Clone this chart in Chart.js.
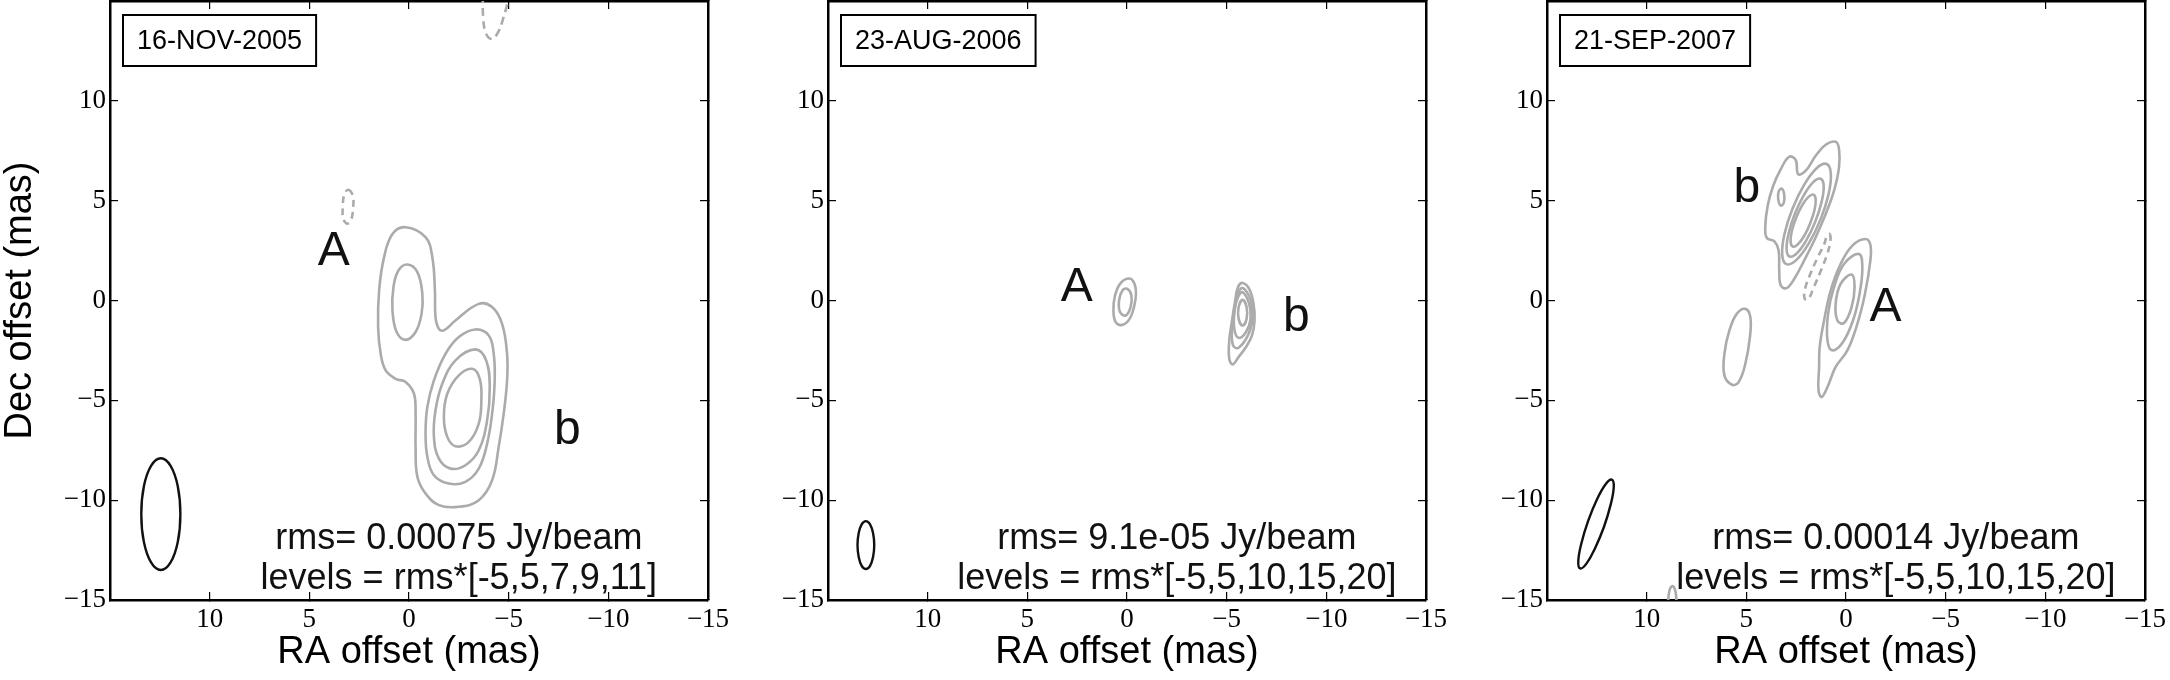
<!DOCTYPE html>
<html>
<head>
<meta charset="utf-8">
<script src="https://cdn.jsdelivr.net/npm/chart.js@4.4.0/dist/chart.umd.min.js"></script>
<style>
  html, body { margin: 0; padding: 0; background: #fff; overflow: hidden; }
  #wrap { position: relative; width: 2170px; height: 680px; }
  .panel { position: absolute; top: 0; width: 760px; height: 680px; }
</style>
</head>
<body>
<div id="wrap">
  <div class="panel" style="left:0px"><canvas id="c1" width="760" height="680"></canvas></div>
  <div class="panel" style="left:718px"><canvas id="c2" width="760" height="680"></canvas></div>
  <div class="panel" style="left:1437px"><canvas id="c3" width="760" height="680"></canvas></div>
</div>
<script>
/*
 * 1. DATA (RA offset, Dec offset in mas)
 */
const panelDates = ['16-NOV-2005', '23-AUG-2006', '21-SEP-2007'];
const rmsLabels = ['rms= 0.00075 Jy/beam', 'rms= 9.1e-05 Jy/beam', 'rms= 0.00014 Jy/beam'];
const levelLabels = ['levels = rms*[-5,5,7,9,11]', 'levels = rms*[-5,5,10,15,20]', 'levels = rms*[-5,5,10,15,20]'];
const noteRA = -2.5;
const noteDec = [-12.45, -14.45];
const axisMin = -15, axisMax = 15, axisStep = 5;

// component names: [text, RA, Dec]
const p1Names = [['A', 3.77, 1.8], ['b', -7.95, -7.2]];
const p2Names = [['A', 2.52, -0.03], ['b', -8.5, -1.52]];
const p3Names = [['b', 4.97, 4.95], ['A', -1.98, -1.03]];

// --- 16-NOV-2005 ---
const p1Lvl5 = [[0.17,3.67],[-0.83,3.17],[-1.17,2.17],[-1.3,0.5],[-1.33,-0.83],[-1.5,-1.42],[-1.75,-1.5],[-2.33,-1.0],[-3.5,-0.17],[-4.17,-0.33],[-4.67,-1.17],[-4.92,-2.67],[-4.92,-4.0],[-4.75,-5.67],[-4.5,-7.33],[-4.17,-9.0],[-3.5,-10.0],[-2.5,-10.33],[-1.5,-10.25],[-0.83,-9.67],[-0.42,-8.83],[-0.33,-7.33],[-0.33,-5.67],[-0.25,-4.67],[0.17,-4.08],[0.67,-3.92],[1.17,-3.5],[1.42,-2.67],[1.55,-1.33],[1.5,0.5],[1.25,2.17],[0.83,3.33]];
const p1Lvl7A = [[0.08,1.8],[-0.42,1.42],[-0.67,0.33],[-0.63,-0.67],[-0.33,-1.58],[0.17,-1.97],[0.62,-1.58],[0.83,-0.5],[0.78,0.67],[0.53,1.5]];
const p1Lvl7b = [[-3.33,-1.45],[-4.0,-1.75],[-4.25,-2.67],[-4.3,-4.0],[-4.17,-5.67],[-3.92,-7.17],[-3.5,-8.42],[-2.83,-9.08],[-2.0,-9.17],[-1.25,-8.75],[-0.92,-7.83],[-0.83,-6.67],[-0.92,-5.33],[-1.25,-4.0],[-1.83,-2.67],[-2.5,-1.83]];
const p1Lvl9 = [[-3.33,-2.45],[-3.87,-3.0],[-4.05,-4.33],[-3.92,-6.0],[-3.5,-7.5],[-2.83,-8.25],[-2.08,-8.42],[-1.5,-7.92],[-1.25,-6.83],[-1.33,-5.5],[-1.67,-4.17],[-2.33,-3.0]];
const p1Lvl11 = [[-3.17,-3.42],[-3.55,-3.92],[-3.63,-5.0],[-3.5,-6.17],[-3.0,-7.08],[-2.33,-7.3],[-1.92,-6.83],[-1.75,-5.83],[-1.92,-4.67],[-2.5,-3.75]];
const p1NegA = [[3.05,5.55],[2.82,5.25],[2.8,4.7],[2.9,4.05],[3.1,3.85],[3.3,4.1],[3.32,4.7],[3.25,5.3]];
const p1NegTop = [[-3.7,15.3],[-3.72,14.2],[-3.85,13.4],[-4.15,13.1],[-4.45,13.4],[-4.75,14.2],[-5.05,15.3]];
const p1Beam = [[13.43,-10.7],[13.3,-9.3],[12.94,-8.28],[12.45,-7.9],[11.96,-8.28],[11.6,-9.3],[11.47,-10.7],[11.6,-12.1],[11.96,-13.12],[12.45,-13.5],[12.94,-13.12],[13.3,-12.1]];

// --- 23-AUG-2006 ---
const p2Lvl5A = [[-0.13,1.1],[-0.38,0.83],[-0.45,0.33],[-0.35,-0.33],[-0.13,-0.92],[0.23,-1.22],[0.57,-1.08],[0.68,-0.5],[0.6,0.25],[0.32,0.87]];
const p2Lvl10A = [[-0.02,0.58],[-0.22,0.25],[-0.18,-0.33],[0.07,-0.75],[0.35,-0.58],[0.4,0.0],[0.23,0.5]];
const p2Lvl5b = [[-5.8,0.88],[-6.13,0.58],[-6.35,-0.17],[-6.4,-1.0],[-6.27,-1.75],[-5.97,-2.33],[-5.6,-2.83],[-5.3,-3.2],[-5.13,-2.92],[-5.13,-2.0],[-5.27,-1.0],[-5.43,0.0],[-5.57,0.67]];
const p2Lvl10b = [[-5.8,0.63],[-6.18,0.08],[-6.3,-0.83],[-6.1,-1.67],[-5.6,-2.37],[-5.32,-2.25],[-5.27,-1.33],[-5.43,-0.17],[-5.6,0.42]];
const p2Lvl15b = [[-5.8,0.42],[-6.13,-0.17],[-6.2,-0.92],[-5.97,-1.58],[-5.6,-1.87],[-5.38,-1.42],[-5.4,-0.5],[-5.57,0.17]];
const p2Lvl20b = [[-5.8,0.03],[-6.0,-0.33],[-6.0,-0.92],[-5.8,-1.25],[-5.6,-0.92],[-5.6,-0.33]];
const p2Beam = [[13.52,-12.25],[13.46,-11.65],[13.31,-11.21],[13.1,-11.05],[12.89,-11.21],[12.74,-11.65],[12.68,-12.25],[12.74,-12.85],[12.89,-13.29],[13.1,-13.45],[13.31,-13.29],[13.46,-12.85]];

// --- 21-SEP-2007 ---
const p3Lvl5b = [[0.52,7.95],[0.35,7.58],[0.35,6.67],[0.6,5.5],[1.02,4.33],[1.52,3.17],[2.1,2.0],[2.6,1.08],[2.98,0.62],[3.27,0.75],[3.35,1.5],[3.38,2.5],[3.6,2.97],[3.97,3.13],[4.05,3.67],[3.93,4.75],[3.65,5.75],[3.27,6.58],[2.85,7.2],[2.52,7.03],[2.4,6.33],[2.02,6.5],[1.52,7.25],[1.02,7.8]];
const p3Isle = [[3.22,5.6],[3.1,5.3],[3.12,4.9],[3.27,4.75],[3.4,5.05],[3.38,5.45]];
const p3Lvl10b = [[0.97,6.84],[1.46,6.64],[2.08,5.83],[2.68,4.61],[3.09,3.32],[3.2,2.3],[2.99,1.82],[2.5,2.02],[1.88,2.84],[1.28,4.05],[0.87,5.34],[0.76,6.36]];
const p3Lvl15b = [[1.27,6.1],[1.63,5.94],[2.1,5.3],[2.56,4.36],[2.88,3.35],[2.98,2.57],[2.83,2.2],[2.47,2.36],[2.0,3.0],[1.54,3.95],[1.22,4.95],[1.12,5.74]];
const p3Lvl20b = [[1.63,5.3],[1.87,5.2],[2.2,4.77],[2.5,4.14],[2.72,3.47],[2.78,2.95],[2.67,2.7],[2.43,2.8],[2.1,3.23],[1.8,3.86],[1.58,4.53],[1.52,5.05]];
const p3Lvl5A = [[-0.98,3.08],[-1.23,2.75],[-1.2,1.83],[-0.95,0.33],[-0.57,-1.17],[-0.07,-2.5],[0.52,-3.33],[0.93,-4.33],[1.22,-4.83],[1.38,-4.5],[1.35,-3.33],[1.32,-2.33],[1.1,-1.0],[0.77,0.5],[0.27,1.83],[-0.32,2.75]];
const p3Lvl10A = [[-0.65,2.33],[-0.82,1.67],[-0.68,0.33],[-0.35,-1.0],[0.15,-2.08],[0.68,-2.5],[0.93,-2.0],[0.9,-0.67],[0.6,0.67],[0.1,1.83]];
const p3Lvl15A = [[-0.28,1.3],[-0.43,0.67],[-0.28,-0.33],[0.1,-1.13],[0.43,-1.0],[0.52,-0.17],[0.27,0.83]];
const p3Blob = [[5.05,-0.42],[4.8,-0.83],[4.82,-1.83],[5.05,-3.17],[5.38,-4.08],[5.72,-4.22],[6.1,-3.75],[6.1,-2.67],[5.85,-1.5],[5.48,-0.67]];
const p3Neg = [[0.82,3.33],[0.78,3.0],[0.95,2.3],[1.3,1.4],[1.6,0.7],[1.9,0.05],[2.08,0.1],[2.05,0.6],[1.8,1.3],[1.45,2.1],[1.1,2.8],[0.95,3.25]];
const p3Edge = [[8.95,-15.3],[8.85,-14.5],[8.7,-14.3],[8.55,-14.6],[8.5,-15.3]];
const p3Beam = [[11.75,-8.97],[12.05,-9.19],[12.49,-9.95],[12.94,-11.05],[13.28,-12.18],[13.43,-13.05],[13.34,-13.42],[13.03,-13.19],[12.6,-12.43],[12.14,-11.33],[11.8,-10.2],[11.65,-9.33]];

/*
 * 2. STYLE + HELPERS
 */
const contourGray = '#ababab';
const sansFamily = '"Liberation Sans", Arial, Helvetica, sans-serif';
const serifFamily = '"Liberation Serif", "DejaVu Serif", serif';

function toXY(arr) {
    return arr.map(p => ({ x: p[0], y: p[1] }));
}

// closed contour: wrap one point on each side so the spline is smooth, hide the two extra segments
function loopSet(arr, color, width, dash) {
    const n = arr.length;
    const seq = [arr[n - 1]].concat(arr, [arr[0], arr[1]]);
    const lastSeg = seq.length - 2;
    return {
        data: toXY(seq),
        showLine: true, fill: false, pointRadius: 0, tension: 0.4,
        borderColor: color, borderWidth: width, borderDash: dash || [],
        segment: {
            borderColor: c => (c.p0DataIndex === 0 || c.p0DataIndex === lastSeg) ? 'rgba(0,0,0,0)' : undefined
        }
    };
}

function openSet(arr, color, width, dash) {
    return {
        data: toXY(arr),
        showLine: true, fill: false, pointRadius: 0, tension: 0.4,
        borderColor: color, borderWidth: width, borderDash: dash || []
    };
}

function tickText(v) {
    if (v === 15) return '';
    return v < 0 ? '\u2212' + (-v) : String(v);
}

const panels = [
    {
        canvas: 'c1', names: p1Names,
        datasets: [
            loopSet(p1Lvl5, contourGray, 2.6), loopSet(p1Lvl7A, contourGray, 2.6), loopSet(p1Lvl7b, contourGray, 2.6),
            loopSet(p1Lvl9, contourGray, 2.6), loopSet(p1Lvl11, contourGray, 2.6),
            loopSet(p1NegA, contourGray, 2.6, [7, 5]), openSet(p1NegTop, contourGray, 2.6, [8, 5]),
            loopSet(p1Beam, '#111', 2.4)
        ]
    },
    {
        canvas: 'c2', names: p2Names,
        datasets: [
            loopSet(p2Lvl5A, contourGray, 2.6), loopSet(p2Lvl10A, contourGray, 2.6),
            loopSet(p2Lvl5b, contourGray, 2.6), loopSet(p2Lvl10b, contourGray, 2.6),
            loopSet(p2Lvl15b, contourGray, 2.6), loopSet(p2Lvl20b, contourGray, 2.6),
            loopSet(p2Beam, '#111', 2.4)
        ]
    },
    {
        canvas: 'c3', names: p3Names,
        datasets: [
            loopSet(p3Lvl5b, contourGray, 2.6), loopSet(p3Isle, contourGray, 2.6),
            loopSet(p3Lvl10b, contourGray, 2.6), loopSet(p3Lvl15b, contourGray, 2.6), loopSet(p3Lvl20b, contourGray, 2.6),
            loopSet(p3Lvl5A, contourGray, 2.6), loopSet(p3Lvl10A, contourGray, 2.6), loopSet(p3Lvl15A, contourGray, 2.6),
            loopSet(p3Blob, contourGray, 2.6), loopSet(p3Neg, contourGray, 2.6, [7, 5]),
            openSet(p3Edge, contourGray, 2.6),
            loopSet(p3Beam, '#111', 2.4)
        ]
    }
];

/*
 * 3. TEXT PLUGIN (date box, component names, rms note)
 */
function makeTextPlugin(i) {
    return {
        id: 'panelText' + i,
        afterDatasetsDraw(chart) {
            const { ctx, chartArea, scales } = chart;
            const xs = scales.x, ys = scales.y;
            ctx.save();
            // date box in the upper left corner
            ctx.font = '27px ' + sansFamily;
            const w = ctx.measureText(panelDates[i]).width + 28;
            const bx = chartArea.left + 13, by = chartArea.top + 14, bh = 51;
            ctx.fillStyle = '#fff';
            ctx.fillRect(bx, by, w, bh);
            ctx.lineWidth = 2;
            ctx.strokeStyle = '#000';
            ctx.strokeRect(bx, by, w, bh);
            ctx.fillStyle = '#000';
            ctx.textAlign = 'center';
            ctx.textBaseline = 'middle';
            ctx.fillText(panelDates[i], bx + w / 2, by + bh / 2 + 1);

            // component names
            ctx.font = '48px ' + sansFamily;
            ctx.textBaseline = 'alphabetic';
            ctx.fillStyle = '#111';
            panels[i].names.forEach(([t, ra, dec]) => {
                ctx.fillText(t, xs.getPixelForValue(ra), ys.getPixelForValue(dec));
            });

            // rms + levels
            ctx.font = '36px ' + sansFamily;
            ctx.fillText(rmsLabels[i], xs.getPixelForValue(noteRA), ys.getPixelForValue(noteDec[0]));
            ctx.fillText(levelLabels[i], xs.getPixelForValue(noteRA), ys.getPixelForValue(noteDec[1]));
            ctx.restore();
        }
    };
}

/*
 * 4. BUILD THE THREE CHARTS
 */
const tickFont = { family: serifFamily, size: 27 };
const titleFont = { family: sansFamily, size: 38, lineHeight: 1.1 };
const frame = { display: true, color: '#000', width: 2.5 };
const tickGrid = { drawOnChartArea: false, drawTicks: true, tickLength: -8, color: '#000', lineWidth: 1.2 };

function noPad(s) {
    s.paddingLeft = 0; s.paddingRight = 0; s.paddingTop = 0; s.paddingBottom = 0;
}

panels.forEach((p, i) => {
    new Chart(document.getElementById(p.canvas), {
        type: 'scatter',
        data: { datasets: p.datasets },
        options: {
            responsive: false,
            animation: false,
            events: [],
            layout: { padding: { left: 0, top: 1, right: 52, bottom: 0 } },
            plugins: { legend: { display: false }, tooltip: { enabled: false } },
            scales: {
                x: {
                    type: 'linear', position: 'bottom', reverse: true, min: axisMin, max: axisMax,
                    border: frame, grid: tickGrid,
                    ticks: { stepSize: axisStep, padding: 12, color: '#000', font: tickFont, maxRotation: 0, autoSkip: false, callback: tickText },
                    title: { display: true, text: 'RA offset (mas)', color: '#000', font: titleFont, padding: { top: 0, bottom: 7 } },
                    afterFit: s => { s.height = 80; noPad(s); }
                },
                y: {
                    type: 'linear', position: 'left', min: axisMin, max: axisMax,
                    border: frame, grid: tickGrid,
                    ticks: { stepSize: axisStep, padding: 12, color: '#000', font: tickFont, autoSkip: false, callback: tickText },
                    title: { display: i === 0, text: 'Dec offset (mas)', color: '#000', font: titleFont, padding: { top: 0, bottom: 0 } },
                    afterFit: s => { s.width = 110; noPad(s); }
                },
                x2: {
                    type: 'linear', position: 'top', reverse: true, min: axisMin, max: axisMax,
                    border: frame, grid: tickGrid,
                    ticks: { display: false, stepSize: axisStep },
                    afterFit: s => { s.height = 0; noPad(s); }
                },
                y2: {
                    type: 'linear', position: 'right', min: axisMin, max: axisMax,
                    border: frame, grid: tickGrid,
                    ticks: { display: false, stepSize: axisStep },
                    afterFit: s => { s.width = 0; noPad(s); }
                }
            }
        },
        plugins: [makeTextPlugin(i)]
    });
});
</script>
</body>
</html>
